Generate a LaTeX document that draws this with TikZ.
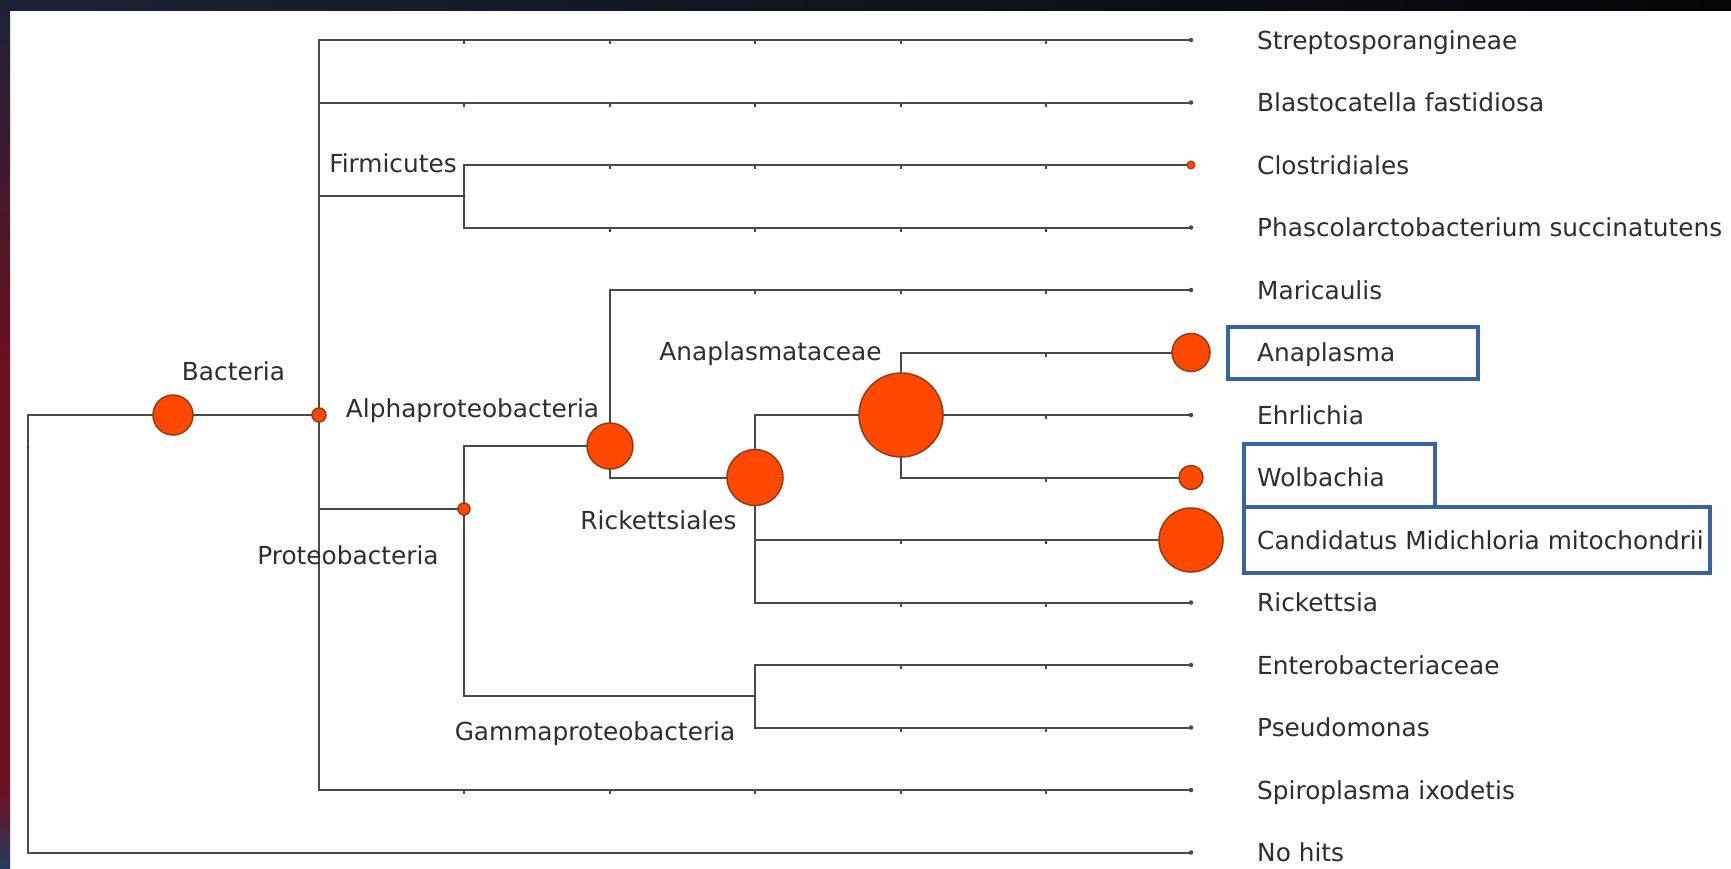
\documentclass[tikz,border=0pt]{standalone}
\usepackage{fontspec}
\setmainfont{DejaVu Sans}
\definecolor{edgegray}{HTML}{4A4A4A}
\definecolor{labgray}{HTML}{2E2E2E}
\definecolor{blobfill}{HTML}{FF4800}
\definecolor{blobdraw}{HTML}{963C14}
\definecolor{hlblue}{HTML}{3862A2}
\definecolor{bandnavy}{HTML}{1B2236}
\definecolor{bandblack}{HTML}{050507}
\definecolor{bandred}{HTML}{6A1020}
\definecolor{bandpink}{HTML}{9A3A55}
\definecolor{bandblue}{HTML}{243C5C}
\pgfdeclarelayer{bg}
\pgfdeclarelayer{edges}
\pgfsetlayers{bg,edges,main}
\tikzset{
  edge/.style={draw=edgegray, line width=2pt},
  tickmark/.style={draw=edgegray, line width=1.2pt},
  blob/.style={circle, fill=blobfill, draw=blobdraw, line width=1.5pt, inner sep=0pt},
  leafdot/.style={circle, fill=edgegray, inner sep=0pt, minimum size=4.5pt},
  tipdot/.style={circle, fill=edgegray, inner sep=0pt, minimum size=3pt},
  lab/.style={text=labgray, font=\fontsize{24.8}{29}\selectfont, inner sep=0pt, anchor=base},
  leaflab/.style={lab, anchor=base west},
  hl/.style={draw=hlblue, line width=4pt}
}
\begin{document}
\begin{tikzpicture}[x=1pt,y=-1pt]
\useasboundingbox (0,0) rectangle (1731,868);
\begin{pgfonlayer}{bg}
  \fill[white] (0,0) rectangle (1731,868);
  \shade[left color=bandnavy, right color=bandblack] (0,0) rectangle (1731,10);
  \shade[top color=bandnavy, bottom color=bandred] (0,0) rectangle (10,360);
  \shade[top color=bandred, middle color=bandpink, bottom color=bandred] (0,360) rectangle (10,560);
  \shade[top color=bandred, middle color=bandpink, bottom color=bandred] (0,560) rectangle (10,790);
  \shade[top color=bandred, bottom color=bandblue] (0,790) rectangle (10,868);
\end{pgfonlayer}

% internal nodes
\node[tipdot] (root) at (28,447) {};
\node[blob, minimum size=40pt] (bact) at (173,415) {};
\node[blob, minimum size=14pt] (cell) at (319,415) {};
\node[tipdot] (firm) at (464,196) {};
\node[blob, minimum size=12pt] (proteo) at (464,509) {};
\node[blob, minimum size=46pt] (alpha) at (610,446) {};
\node[blob, minimum size=56pt] (rick) at (755,477.5) {};
\node[blob, minimum size=84pt] (anap) at (901,415) {};
\node[tipdot] (gamma) at (755,696) {};

% leaves
\node[leafdot] (l0) at (1191,40) {};
\node[leafdot] (l1) at (1191,102.5) {};
\node[blob, minimum size=8pt, line width=1pt] (l2) at (1191,165) {};
\node[leafdot] (l3) at (1191,227.5) {};
\node[leafdot] (l4) at (1191,290) {};
\node[blob, minimum size=38pt] (l5) at (1191,352.5) {};
\node[leafdot] (l6) at (1191,415) {};
\node[blob, minimum size=24pt] (l7) at (1191,477.5) {};
\node[blob, minimum size=64pt] (l8) at (1191,540) {};
\node[leafdot] (l9) at (1191,602.5) {};
\node[leafdot] (l10) at (1191,665) {};
\node[leafdot] (l11) at (1191,727.5) {};
\node[leafdot] (l12) at (1191,790) {};
\node[leafdot] (l13) at (1191,852.5) {};

% edges
\begin{pgfonlayer}{edges}
  \draw[edge] (root.center) |- (bact.center);
  \draw[edge] (root.center) |- (l13.center);
  \draw[edge] (bact.center) -- (cell.center);
  \draw[edge] (cell.center) |- (l0.center);
  \draw[edge] (cell.center) |- (l1.center);
  \draw[edge] (cell.center) |- (firm.center);
  \draw[edge] (cell.center) |- (proteo.center);
  \draw[edge] (cell.center) |- (l12.center);
  \draw[edge] (firm.center) |- (l2.center);
  \draw[edge] (firm.center) |- (l3.center);
  \draw[edge] (proteo.center) |- (alpha.center);
  \draw[edge] (proteo.center) |- (gamma.center);
  \draw[edge] (alpha.center) |- (l4.center);
  \draw[edge] (alpha.center) |- (rick.center);
  \draw[edge] (rick.center) |- (anap.center);
  \draw[edge] (rick.center) |- (l8.center);
  \draw[edge] (rick.center) |- (l9.center);
  \draw[edge] (anap.center) |- (l5.center);
  \draw[edge] (anap.center) |- (l6.center);
  \draw[edge] (anap.center) |- (l7.center);
  \draw[edge] (gamma.center) |- (l10.center);
  \draw[edge] (gamma.center) |- (l11.center);
  % small tick marks on pass-through branches
  \foreach \yy in {40,102.5,790}
    \foreach \xx in {464,610,755,901,1046}
      \draw[tickmark] (\xx,\yy-1) -- (\xx,\yy+4);
  \foreach \yy in {165,227.5}
    \foreach \xx in {610,755,901,1046}
      \draw[tickmark] (\xx,\yy-1) -- (\xx,\yy+4);
  \foreach \xx in {755,901,1046}
    \draw[tickmark] (\xx,289) -- (\xx,294);
  \foreach \yy in {352.5,415,477.5}
    \draw[tickmark] (1046,\yy-1) -- (1046,\yy+4);
  \foreach \yy in {540,602.5,665,727.5}
    \foreach \xx in {901,1046}
      \draw[tickmark] (\xx,\yy-1) -- (\xx,\yy+4);
\end{pgfonlayer}

% internal labels
\node[lab] (tBact) at (233.5,380) {Bacteria};
\node[lab] (tFirm) at (393,172) {Firmicutes};
\node[lab] (tAlpha) at (472.5,417) {Alphaproteobacteria};
\node[lab] (tProteo) at (348,564) {Proteobacteria};
\node[lab] (tAnap) at (770.5,360) {Anaplasmataceae};
\node[lab] (tRick) at (658.5,529) {Rickettsiales};
\node[lab] (tGamma) at (595,740) {Gammaproteobacteria};

% leaf labels
\node[leaflab] (n0) at (1257,49) {Streptosporangineae};
\node[leaflab] (n1) at (1257,111.5) {Blastocatella fastidiosa};
\node[leaflab] (n2) at (1257,174) {Clostridiales};
\node[leaflab] (n3) at (1257,236.5) {Phascolarctobacterium succinatutens};
\node[leaflab] (n4) at (1257,299) {Maricaulis};
\node[leaflab] (n5) at (1257,361.5) {Anaplasma};
\node[leaflab] (n6) at (1257,424) {Ehrlichia};
\node[leaflab] (n7) at (1257,486.5) {Wolbachia};
\node[leaflab] (n8) at (1257,549) {Candidatus Midichloria mitochondrii};
\node[leaflab] (n9) at (1257,611.5) {Rickettsia};
\node[leaflab] (n10) at (1257,674) {Enterobacteriaceae};
\node[leaflab] (n11) at (1257,736.5) {Pseudomonas};
\node[leaflab] (n12) at (1257,799) {Spiroplasma ixodetis};
\node[leaflab] (n13) at (1257,861.5) {No hits};

% highlight boxes
\draw[hl] (1228,327) rectangle (1478,379);
\draw[hl] (1244,444) rectangle (1435,507);
\draw[hl] (1244,507) rectangle (1710,573);
\end{tikzpicture}
\end{document}
